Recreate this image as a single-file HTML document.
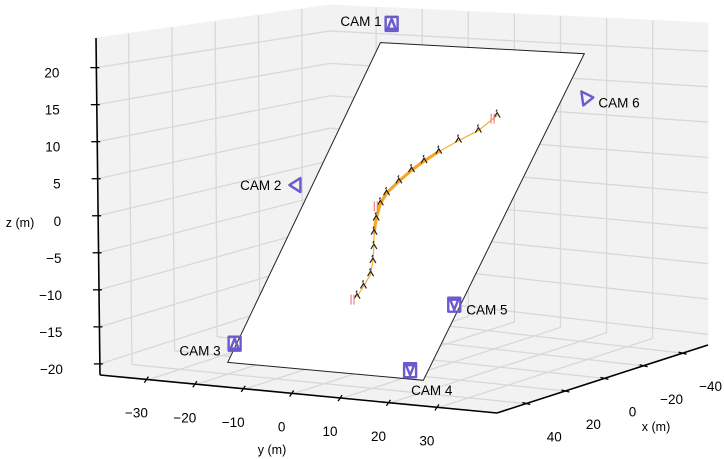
<!DOCTYPE html>
<html><head><meta charset="utf-8">
<style>
html,body{margin:0;padding:0;background:#fff;}
svg{display:block;font-family:"Liberation Sans","DejaVu Sans",sans-serif;}
</style></head>
<body>
<svg id="chart" width="724" height="459" viewBox="0 0 724 459" xmlns="http://www.w3.org/2000/svg">
<g id="panes"></g>
<g id="grid"></g>
<g id="axes"></g>
<g id="plane"></g>
<g id="traj"></g>
<g id="cams"></g>
<g id="labels"></g>
</svg>
<script>
// ---- data ----
const xTicks = [40, 20, 0, -20, -40];
const yTicks = [-30, -20, -10, 0, 10, 20, 30];
const zTicks = [20, 15, 10, 5, 0, -5, -10, -15, -20];
// plane corners (x, y, z) in metres: BL, BR, TR, TL
const planeX = [31, 29, -42, -42];
const planeY = [-24, 16, 20, -24];
const planeZ = [-21, -21, 19.4, 19.4];
// trajectory in plane-local coords (s across, t up)
const trajS = [0.477,0.484,0.490,0.470,0.442,0.409,0.386,0.371,0.377,0.409,0.444,0.483,0.532,0.601,0.673,0.728];
const trajT = [0.230,0.262,0.300,0.340,0.382,0.425,0.468,0.514,0.546,0.584,0.620,0.650,0.681,0.718,0.752,0.800];
const trajThick = [0,0,0,0,0,1,1,1,1,1,1,1,1,0,0,0];
// cameras in plane-local coords
const camNames = ["CAM 1","CAM 2","CAM 3","CAM 4","CAM 5","CAM 6"];
const camS = [0.011,-0.082,-0.010,0.911,0.969,1.113];
const camT = [1.059,0.551,0.058,0.026,0.230,0.870];
const camDir = ["up","left","up","down","down","right"];

// ---- projection ----
const XR=[55,-53], YR=[-40,42], ZR=[-21.5,24];
const A=[100,375],B=[497,413],C=[708,345],D=[330,300];
const A2=[96,38],B2=[495,55],C2=[708,23],D2=[330,5];
function bil(p00,p10,p01,p11,u,v){
  return [0,1].map(i=>p00[i]*(1-u)*(1-v)+p10[i]*u*(1-v)+p01[i]*(1-u)*v+p11[i]*u*v);
}
function proj(x,y,z){
  const u=(y-YR[0])/(YR[1]-YR[0]), v=(x-XR[0])/(XR[1]-XR[0]), w=(z-ZR[0])/(ZR[1]-ZR[0]);
  const b=bil(A,B,D,C,u,v), t=bil(A2,B2,D2,C2,u,v);
  return [b[0]*(1-w)+t[0]*w, b[1]*(1-w)+t[1]*w];
}
const NS="http://www.w3.org/2000/svg";
function mk(tag,attrs,parent){const e=document.createElementNS(NS,tag);for(const k in attrs)e.setAttribute(k,attrs[k]);parent.appendChild(e);return e;}
const pts=a=>a.map(p=>p[0].toFixed(1)+","+p[1].toFixed(1)).join(" ");

const gP=document.getElementById("panes"),gG=document.getElementById("grid"),gA=document.getElementById("axes");
const gPl=document.getElementById("plane"),gT=document.getElementById("traj"),gC=document.getElementById("cams"),gL=document.getElementById("labels");

let e;
e=mk("polygon",{points:pts([A,A2,D2,D]),fill:"#f2f2f2",stroke:"#f2f2f2"},gP);


e=mk("polygon",{points:pts([D,D2,C2,C]),fill:"#f2f2f2",stroke:"#f2f2f2"},gP);


e=mk("polygon",{points:pts([A,B,C,D]),fill:"#f2f2f2",stroke:"#f2f2f2"},gP);



function gl(p,q){const l=mk("line",{x1:p[0],y1:p[1],x2:q[0],y2:q[1],stroke:"#d8d8d8","stroke-width":1.3},gG);return l;}
xTicks.forEach(x=>{
  e=gl(proj(x,YR[0],ZR[0]),proj(x,YR[0],ZR[1]));
  
  
  e=gl(proj(x,YR[0],ZR[0]),proj(x,YR[1],ZR[0]));
  
  
});
yTicks.forEach(y=>{
  e=gl(proj(XR[1],y,ZR[0]),proj(XR[1],y,ZR[1]));
  
  
  e=gl(proj(XR[0],y,ZR[0]),proj(XR[1],y,ZR[0]));
  
  
});
zTicks.forEach(z=>{
  e=gl(proj(XR[0],YR[0],z),proj(XR[1],YR[0],z));
  
  
  e=gl(proj(XR[1],YR[0],z),proj(XR[1],YR[1],z));
  
  
});

function al(p,q){return mk("line",{x1:p[0],y1:p[1],x2:q[0],y2:q[1],stroke:"#000","stroke-width":1.6},gA);}
e=al(A,A2);


e=al(A,B);


e=al(B,C);



function txt(s,x,y,anchor){const t=mk("text",{x:x,y:y,"font-size":13.5,"text-anchor":anchor,fill:"#000"},gL);t.textContent=s;return t;}
zTicks.forEach(z=>{
  const p=proj(XR[0],YR[0],z);
  e=mk("line",{x1:p[0]-6,y1:p[1],x2:p[0]+3,y2:p[1],stroke:"#000","stroke-width":1.3},gA);
  
  
  e=txt(String(z).replace("-","\u2212"),p[0]-37,p[1]+10,"end");
  
  
});
yTicks.forEach(y=>{
  const p=proj(XR[0],y,ZR[0]);
  e=mk("line",{x1:p[0],y1:p[1]-3,x2:p[0]-4,y2:p[1]+3,stroke:"#000","stroke-width":1.3},gA);
  
  
  e=txt(String(y).replace("-","\u2212"),p[0]-12,p[1]+38,"middle");
  
  
});
xTicks.forEach(x=>{
  const p=proj(x,YR[1],ZR[0]);
  e=mk("line",{x1:p[0]-4,y1:p[1]-1,x2:p[0]+4,y2:p[1]+1,stroke:"#000","stroke-width":1.3},gA);
  
  
  e=txt(String(x).replace("-","\u2212"),p[0]+28,p[1]+38,"middle");
  
  
});
e=txt("z (m)",20,227,"middle");e.setAttribute("font-size",12.5);


e=txt("y (m)",272,454,"middle");e.setAttribute("font-size",12.5);


e=txt("x (m)",656,431,"middle");e.setAttribute("font-size",12.5);



// plane
const PC=planeX.map((x,i)=>proj(x,planeY[i],planeZ[i]));
e=mk("polygon",{points:pts(PC),fill:"#fff",stroke:"#222","stroke-width":1},gPl);


function local(s,t){
  const o=PC[0];
  const top=[PC[3][0]+s*(PC[2][0]-PC[3][0]),PC[3][1]+s*(PC[2][1]-PC[3][1])];
  const bot=[o[0]+s*(PC[1][0]-o[0]),o[1]+s*(PC[1][1]-o[1])];
  return [bot[0]+t*(top[0]-bot[0]),bot[1]+t*(top[1]-bot[1])];
}
// trajectory
const TP=trajS.map((s,i)=>local(s,trajT[i]));
for(let i=0;i<TP.length-1;i++){
  const w=(trajThick[i]&&trajThick[i+1])?3.2:1.1;
  e=mk("line",{x1:TP[i][0],y1:TP[i][1],x2:TP[i+1][0],y2:TP[i+1][1],stroke:"#f5a623","stroke-width":w,"stroke-linecap":"round"},gT);
  
  
}
TP.forEach((p,i)=>{
  e=mk("path",{d:`M${p[0]-3},${p[1]+2} L${p[0]},${p[1]-3} L${p[0]+3},${p[1]+2} M${p[0]-1},${p[1]-4} l1,-2`,stroke:"#222","stroke-width":1.2,fill:"none"},gT);
  
  
});
[0,7,TP.length-1].forEach(i=>{
  const p=TP[i];
  e=mk("path",{d:`M${p[0]-6},${p[1]-2} v10 M${p[0]-3},${p[1]-2} v10`,stroke:"#f08080","stroke-width":1.2},gT);
  
  
});
// cameras
const CC="#6a5acd";
camNames.forEach((n,i)=>{
  const p=local(camS[i],camT[i]);const x=p[0],y=p[1];let d;
  if(camDir[i]=="up") d=`M${x-6},${y-7}h12v14h-12z M${x},${y-5} L${x+4},${y+5} L${x-4},${y+5}z`;
  else if(camDir[i]=="down") d=`M${x-6},${y-7}h12v14h-12z M${x-4},${y-5} L${x+4},${y-5} L${x},${y+5}z`;
  else if(camDir[i]=="left") d=`M${x-6},${y} L${x+5},${y-7} L${x+5},${y+7}z`;
  else d=`M${x+7},${y} L${x-5},${y-6} L${x-3},${y+8}z`;
  e=mk("path",{d:d,stroke:CC,"stroke-width":2.4,fill:"none","stroke-linejoin":"round"},gC);
  
  
  let tx,ty,an;
  if(i==0){tx=x-10;ty=y+2;an="end";}
  else if(i==1){tx=x-14;ty=y+5;an="end";}
  else if(i==2){tx=x-14;ty=y+12;an="end";}
  else if(i==3){tx=x+1;ty=y+25;an="start";}
  else {tx=x+12;ty=y+10;an="start";}
  const t=txt(n,tx,ty,an);
  
  
});
</script>
</body></html>
